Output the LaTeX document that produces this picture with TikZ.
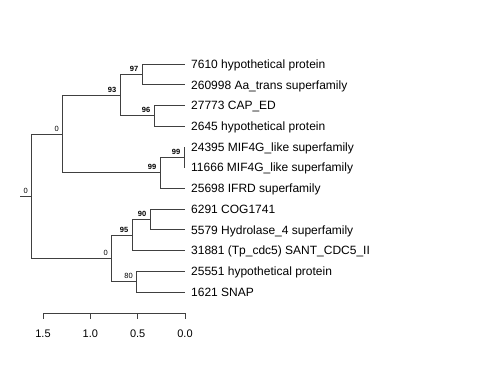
\documentclass[tikz,border=0pt]{standalone}
\usepackage{fontspec}
\setmainfont{Liberation Sans}
\usetikzlibrary{positioning}

\tikzset{
  branche/.style={draw=black!75, line width=0.7pt},
  feuille/.style={anchor=base west, inner sep=0pt, font=\fontsize{12}{14}\selectfont},
  boot/.style={anchor=base east, inner sep=0pt, font=\fontsize{7.5}{8}\selectfont\bfseries},
  bootn/.style={anchor=base east, inner sep=0pt, font=\fontsize{7.5}{8}\selectfont},
  graduation/.style={anchor=base, inner sep=0pt, font=\fontsize{11}{13}\selectfont},
}

\begin{document}
\begin{tikzpicture}[x=1pt,y=-1pt]
    \useasboundingbox (0,0) rectangle (480,384);
    \def\xt{185}    % abscisse des feuilles
    \def\dy{20.73}  % ecart entre feuilles

    % Feuilles
    \foreach \i/\lab in {1/{7610 hypothetical protein}, 2/{260998 Aa\_trans superfamily},
        3/{27773 CAP\_ED}, 4/{2645 hypothetical protein}, 5/{24395 MIF4G\_like superfamily},
        6/{11666 MIF4G\_like superfamily}, 7/{25698 IFRD superfamily}, 8/{6291 COG1741},
        9/{5579 Hydrolase\_4 superfamily}, 10/{31881 (Tp\_cdc5) SANT\_CDC5\_II},
        11/{25551 hypothetical protein}, 12/{1621 SNAP}}{
        \pgfmathsetmacro{\yy}{64+(\i-1)*\dy}
        \coordinate (l\i) at (\xt,\yy);
        \node[feuille] (t\i) at (\xt+6,\yy+4.3) {\lab};
    }

    % Noeuds internes
    \coordinate (n97) at (142,74.4);
    \coordinate (n96) at (154,115.8);
    \coordinate (n93) at (120,95.1);
    \coordinate (n99a) at (184,157.3);
    \coordinate (n99b) at (160,172.8);
    \coordinate (n0a) at (62,134.0);
    \coordinate (n90) at (150,219.5);
    \coordinate (n95) at (132,235.0);
    \coordinate (n80) at (136,281.7);
    \coordinate (n0b) at (111,258.3);
    \coordinate (racine) at (31,196.2);
    \coordinate (souche) at (20,196.2);

    % Branches
    \foreach \p/\e in {n97/l1, n97/l2, n96/l3, n96/l4, n93/n97, n93/n96,
        n99a/l5, n99a/l6, n99b/n99a, n99b/l7, n0a/n93, n0a/n99b,
        n90/l8, n90/l9, n95/n90, n95/l10, n80/l11, n80/l12, n0b/n95, n0b/n80,
        racine/n0a, racine/n0b}{
        \draw[branche] (\p) |- (\e);
    }
    \draw[branche] (souche) -- (racine);

    % Valeurs de bootstrap
    \foreach \n/\v in {n97/97, n96/96, n93/93, n99a/99, n99b/99, n90/90, n95/95}{
        \node[boot] (b\n) at ([xshift=-3.5pt,yshift=3pt]\n) {\v};
    }
    \foreach \n/\v in {n0a/0, n0b/0, n80/80, racine/0}{
        \node[bootn] (b\n) at ([xshift=-3pt,yshift=3pt]\n) {\v};
    }

    % Echelle
    \foreach \k/\x/\lab in {0/43/1.5, 1/90.3/1.0, 2/137.7/0.5, 3/185/0.0}{
        \coordinate (g\k) at (\x,313);
        \draw[branche] (g\k) -- ++(0,6);
        \node[graduation] (e\k) at (\x,337) {\lab};
    }
    \draw[branche] (g0) -- (g3);
\end{tikzpicture}
\end{document}
